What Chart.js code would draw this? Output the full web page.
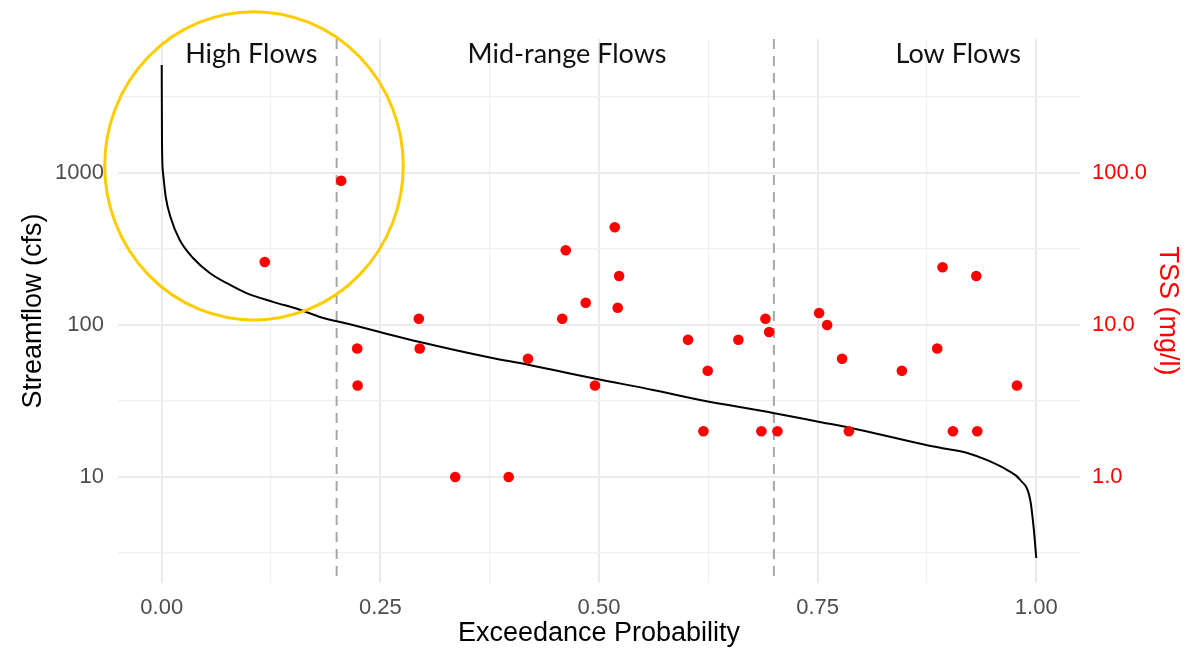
<!DOCTYPE html>
<html>
<head>
<meta charset="utf-8">
<script src="https://cdn.jsdelivr.net/npm/chart.js@4.4.1/dist/chart.umd.min.js"></script>
<style>
  html, body { margin: 0; padding: 0; background: #ffffff; }
  canvas { display: block; }
</style>
</head>
<body>
<canvas id="c" width="1202" height="651"></canvas>
<script>
// ---- Flow duration curve ----
const exceedanceProb = [0, 0.0003, 0.0015, 0.0046, 0.0100, 0.0206, 0.0358, 0.0549, 0.0740, 0.0969,
  0.1273, 0.1579, 0.1808, 0.2151, 0.2494, 0.2952, 0.3753, 0.4176, 0.4977, 0.5618,
  0.6156, 0.6991, 0.7494, 0.7986, 0.8753, 0.8982, 0.9211, 0.9439, 0.9668, 0.9817,
  0.9931, 0.9969, 1.0];
const streamflowCfs = [5135, 1575, 1000, 695, 513, 362, 276, 220, 189, 162,
  142, 126, 113, 101, 89.9, 77.3, 61.1, 55.0, 44.1, 37.4,
  32.1, 26.4, 23.2, 20.4, 16.2, 15.3, 14.4, 12.9, 11.1, 9.56,
  7.06, 4.71, 2.93];

// ---- TSS samples ----
const tssProb = [0.1178, 0.2052, 0.2235, 0.2240, 0.2940, 0.2950, 0.3356, 0.3967, 0.4188, 0.4580,
  0.4620, 0.4848, 0.4954, 0.5180, 0.5230, 0.5214, 0.6018, 0.6194, 0.6243, 0.6594,
  0.6857, 0.6903, 0.6945, 0.7040, 0.7517, 0.7609, 0.7780, 0.7857, 0.8463, 0.8867,
  0.8928, 0.9047, 0.9314, 0.9325, 0.9779];
const tssMgL = [26, 89, 7, 4, 11, 7, 1, 1, 6, 11,
  31, 14, 4, 44, 21, 13, 8, 2, 5, 8,
  2, 11, 9, 2, 12, 10, 6, 2, 5, 7,
  24, 2, 21, 2, 4];

// ---- Axis ticks ----
const xGridValues = [0, 0.125, 0.25, 0.375, 0.5, 0.625, 0.75, 0.875, 1.0];
const xTickValues = [0, 0.25, 0.5, 0.75, 1.0];
const xTickLabels = ['0.00', '0.25', '0.50', '0.75', '1.00'];
const yGridValues = [3.1623, 10, 31.623, 100, 316.23, 1000, 3162.3];
const yTickValues = [10, 100, 1000];
const yTickLabels = ['10', '100', '1000'];
const y2GridValues = [0.31623, 1, 3.1623, 10, 31.623, 100, 316.23];
const y2TickValues = [1, 10, 100];
const y2TickLabels = ['1.0', '10.0', '100.0'];

// ---- Annotations ----
const flowBreaks = [0.2, 0.7];
const zoneLabels = ['High Flows', 'Mid-range Flows', 'Low Flows'];
const zoneLabelProb = [0.1024, 0.4634, 0.9108];
const zoneLabelFlow = 5300;
const highlightCenter = [0.1055, 1115];   // prob, cfs
const highlightRadius = [0.1707, 1.0145]; // prob units, decades

const axisFont = '"Liberation Sans", Arial, Helvetica, sans-serif';
const isMajor = (v, list) => list.some(t => Math.abs(t - v) < 1e-6 * Math.max(1, Math.abs(t)));
const gridColor = (list) => (ctx) => (ctx.tick && isMajor(ctx.tick.value, list)) ? '#EBEBEB' : '#F0F0F0';
const gridWidth = (list) => (ctx) => (ctx.tick && isMajor(ctx.tick.value, list)) ? 2 : 1.2;
const labelFor = (vals, labels) => (v) => {
  const i = vals.findIndex(t => Math.abs(t - v) < 1e-6 * Math.max(1, Math.abs(t)));
  return i >= 0 ? labels[i] : '';
};

const annotations = {
  id: 'annotations',
  beforeDatasetsDraw(chart) {
    const {ctx, chartArea, scales: {x}} = chart;
    ctx.save();
    ctx.strokeStyle = '#A8A8A8';
    ctx.lineWidth = 2;
    ctx.setLineDash([10, 7]);
    flowBreaks.forEach(b => {
      const px = x.getPixelForValue(b);
      ctx.beginPath();
      ctx.moveTo(px, chartArea.top);
      ctx.lineTo(px, chartArea.bottom);
      ctx.stroke();
    });
    ctx.restore();
  },
  afterDraw(chart) {
    const {ctx, scales: {x, y}} = chart;
    ctx.save();
    ctx.fillStyle = '#111111';
    ctx.font = '27px Lato, "Open Sans", sans-serif';
    ctx.textAlign = 'center';
    ctx.textBaseline = 'alphabetic';
    zoneLabels.forEach((t, i) => {
      ctx.fillText(t, x.getPixelForValue(zoneLabelProb[i]), y.getPixelForValue(zoneLabelFlow));
    });
    const cx = x.getPixelForValue(highlightCenter[0]);
    const cy = y.getPixelForValue(highlightCenter[1]);
    const rx = x.getPixelForValue(highlightCenter[0] + highlightRadius[0]) - cx;
    const ry = cy - y.getPixelForValue(highlightCenter[1] * Math.pow(10, highlightRadius[1]));
    ctx.strokeStyle = '#FFCC00';
    ctx.lineWidth = 3;
    ctx.beginPath();
    ctx.ellipse(cx, cy, rx, ry, 0, 0, Math.PI * 2);
    ctx.stroke();
    ctx.restore();
  }
};

new Chart(document.getElementById('c'), {
  type: 'scatter',
  data: {
    datasets: [
      {
        label: 'TSS',
        data: tssProb.map((p, i) => ({x: p, y: tssMgL[i]})),
        yAxisID: 'y2',
        backgroundColor: '#FF0000',
        borderWidth: 0,
        pointRadius: 5.3,
        pointHoverRadius: 5.3
      },
      {
        label: 'Streamflow',
        data: exceedanceProb.map((p, i) => ({x: p, y: streamflowCfs[i]})),
        yAxisID: 'y',
        showLine: true,
        borderColor: '#000000',
        borderWidth: 2,
        pointRadius: 0,
        cubicInterpolationMode: 'monotone'
      }
    ]
  },
  options: {
    responsive: false,
    devicePixelRatio: 1,
    animation: false,
    layout: { padding: { top: 39, right: 0, left: 0, bottom: 0 } },
    plugins: { legend: { display: false }, tooltip: { enabled: false } },
    scales: {
      x: {
        type: 'linear',
        position: 'bottom',
        min: -0.05,
        max: 1.05,
        afterBuildTicks: (s) => { s.ticks = xGridValues.map(v => ({value: v})); },
        afterFit: (s) => { s.height = 68; },
        border: { display: false },
        grid: { drawTicks: false, color: gridColor(xTickValues), lineWidth: gridWidth(xTickValues) },
        ticks: {
          autoSkip: false, maxRotation: 0, padding: 12, color: '#4D4D4D',
          font: { size: 22, family: axisFont },
          callback: labelFor(xTickValues, xTickLabels)
        },
        title: {
          display: true, text: 'Exceedance Probability', color: '#000000',
          font: { size: 27, family: axisFont }, padding: { top: 0, bottom: 1 }
        }
      },
      y: {
        type: 'logarithmic',
        position: 'left',
        min: 2.007,
        max: 7615,
        afterBuildTicks: (s) => { s.ticks = yGridValues.map(v => ({value: v})); },
        afterFit: (s) => { s.width = 118; },
        border: { display: false },
        grid: { drawTicks: false, color: gridColor(yTickValues), lineWidth: gridWidth(yTickValues) },
        ticks: {
          autoSkip: false, padding: 14, color: '#4D4D4D',
          font: { size: 22, family: axisFont },
          callback: labelFor(yTickValues, yTickLabels)
        },
        title: {
          display: true, text: 'Streamflow (cfs)', color: '#000000',
          font: { size: 27, family: axisFont }, padding: { top: 17, bottom: 0 }
        }
      },
      y2: {
        type: 'logarithmic',
        position: 'right',
        min: 0.2007,
        max: 761.5,
        afterBuildTicks: (s) => { s.ticks = y2GridValues.map(v => ({value: v})); },
        afterFit: (s) => { s.width = 122; },
        border: { display: false },
        grid: { display: false, drawTicks: false },
        ticks: {
          autoSkip: false, padding: 12, color: '#FF0000',
          font: { size: 22, family: axisFont },
          callback: labelFor(y2TickValues, y2TickLabels)
        },
        title: {
          display: true, text: 'TSS (mg/l)', color: '#FF0000',
          font: { size: 27, family: axisFont }, padding: { top: 18, bottom: 0 }
        }
      }
    }
  },
  plugins: [annotations]
});
</script>
</body>
</html>
